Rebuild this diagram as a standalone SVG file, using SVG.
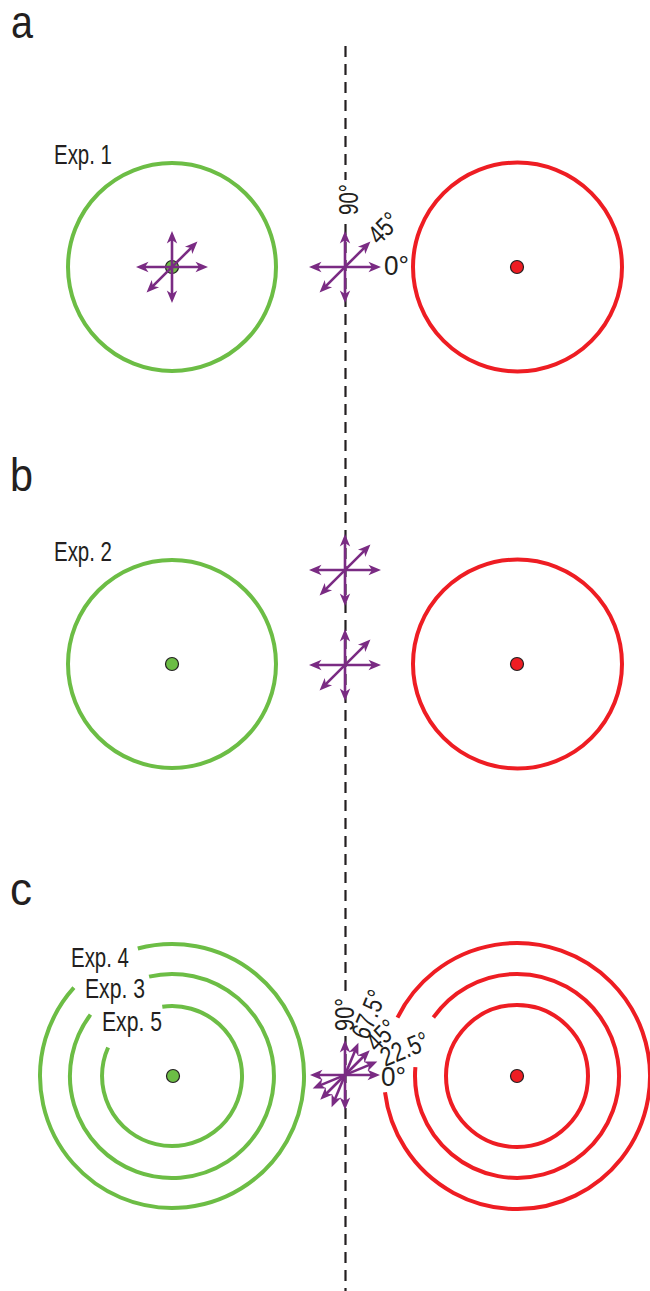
<svg xmlns="http://www.w3.org/2000/svg" width="650" height="1291" viewBox="0 0 650 1291">
<style>
.t{font-family:"Liberation Sans Narrow","Arial Narrow","Liberation Sans",Arial,sans-serif;fill:#231f20}
.lbl{font-size:46px}
.exp{font-size:27px}
.deg{font-size:27px}
.g{fill:none;stroke:#6cbd45;stroke-width:4}
.r{fill:none;stroke:#ee1d23;stroke-width:4}
.dg{fill:#6cbd45;stroke:#231f20;stroke-width:1.2}
.dr{fill:#ee1d23;stroke:#231f20;stroke-width:1.2}
.ar{fill:none;stroke:#7a2b83;stroke-width:2.6;marker-start:url(#ah);marker-end:url(#ah)}
.dash{fill:none;stroke:#231f20;stroke-width:2.2;stroke-dasharray:11 7}
</style>
<defs>
<marker id="ah" markerUnits="userSpaceOnUse" markerWidth="18" markerHeight="12" refX="10" refY="6" orient="auto-start-reverse">
<path d="M16,6 L3.5,0.8 L7,6 L3.5,11.2 Z" fill="#7a2b83"/>
</marker>
</defs>
<rect width="650" height="1291" fill="#ffffff"/>
<g id="connectors">
<path class="dash" d="M345.5,46 V180 M345.5,224 V993 M345.5,1036 V1291"/>
</g>
<g id="panel-labels">
<text class="t lbl" x="11" y="38" textLength="22" lengthAdjust="spacingAndGlyphs">a</text>
<text class="t lbl" x="10" y="491" textLength="23" lengthAdjust="spacingAndGlyphs">b</text>
<text class="t lbl" x="10" y="905" textLength="22" lengthAdjust="spacingAndGlyphs">c</text>
</g>
<g id="exp1-green">
<circle class="g" cx="172" cy="267" r="104"/>
<circle class="dg" cx="172" cy="267" r="6.5"/>
<text class="t exp" x="54" y="164" textLength="58" lengthAdjust="spacingAndGlyphs">Exp. 1</text>
</g>
<g id="exp1-red">
<circle class="r" cx="517.5" cy="267" r="104.5"/>
<circle class="dr" cx="517" cy="267" r="6.5"/>
</g>
<g id="exp1-arrows-left">
<path class="ar" d="M142,267 H202"/>
<path class="ar" d="M172,297 V237"/>
<path class="ar" d="M150.8,288.2 L193.2,245.8"/>
</g>
<g id="exp1-arrows-mid">
<path class="ar" d="M315,267 H375"/>
<path class="ar" d="M345,297 V237"/>
<path class="ar" d="M323.8,288.2 L366.2,245.8"/>
<text class="t deg" x="384" y="275" textLength="25" lengthAdjust="spacingAndGlyphs">0°</text>
<text class="t deg" transform="translate(345,267) rotate(-45)" x="39" y="9" textLength="32" lengthAdjust="spacingAndGlyphs">45°</text>
<text class="t deg" transform="translate(345,267) rotate(-90)" x="52" y="13" textLength="31" lengthAdjust="spacingAndGlyphs">90°</text>
</g>
<g id="exp2-green">
<circle class="g" cx="172" cy="664" r="104"/>
<circle class="dg" cx="172" cy="664" r="6.5"/>
<text class="t exp" x="54" y="561" textLength="58" lengthAdjust="spacingAndGlyphs">Exp. 2</text>
</g>
<g id="exp2-red">
<circle class="r" cx="517.5" cy="664" r="104.5"/>
<circle class="dr" cx="517" cy="664" r="6.5"/>
</g>
<g id="exp2-arrows-top">
<path class="ar" d="M315,570 H375"/>
<path class="ar" d="M345,600 V540"/>
<path class="ar" d="M323.8,591.2 L366.2,548.8"/>
</g>
<g id="exp2-arrows-bottom">
<path class="ar" d="M315,665 H375"/>
<path class="ar" d="M345,695 V635"/>
<path class="ar" d="M323.8,686.2 L366.2,643.8"/>
</g>
<g id="exp345-green">
<path class="g" d="M137.8,948.5 A132,132 0 1 1 73.9,987.7"/>
<path class="g" d="M149.1,976.6 A102,102 0 1 1 90.5,1014.6"/>
<path class="g" d="M162.3,1006.7 A70,70 0 1 1 108.1,1047.5"/>
<circle class="dg" cx="173" cy="1076" r="6.5"/>
<text class="t exp" x="71" y="967" textLength="58" lengthAdjust="spacingAndGlyphs">Exp. 4</text>
<text class="t exp" x="85" y="998" textLength="60" lengthAdjust="spacingAndGlyphs">Exp. 3</text>
<text class="t exp" x="102" y="1031" textLength="60" lengthAdjust="spacingAndGlyphs">Exp. 5</text>
</g>
<g id="exp345-red">
<path class="r" d="M397.5,1017.7 A133,133 0 1 1 385.0,1092.2"/>
<path class="r" d="M433.4,1017.5 A102,102 0 1 1 415.4,1067.1"/>
<circle class="r" cx="517" cy="1076" r="71"/>
<circle class="dr" cx="517" cy="1076" r="6.5"/>
</g>
<g id="exp345-arrows">
<path class="ar" d="M316,1075 H374"/>
<path class="ar" d="M318.2,1086.1 L371.8,1063.9"/>
<path class="ar" d="M324.5,1095.5 L365.5,1054.5"/>
<path class="ar" d="M333.9,1101.8 L356.1,1048.2"/>
<path class="ar" d="M345,1104 V1046"/>
<text class="t deg" x="381" y="1086" textLength="25" lengthAdjust="spacingAndGlyphs">0°</text>
<text class="t deg" transform="translate(345,1075) rotate(-22.5)" x="40" y="8" textLength="50" lengthAdjust="spacingAndGlyphs">22.5°</text>
<text class="t deg" transform="translate(345,1075) rotate(-45)" x="38" y="7" textLength="32" lengthAdjust="spacingAndGlyphs">45°</text>
<text class="t deg" transform="translate(345,1075) rotate(-67.5)" x="40" y="8" textLength="50" lengthAdjust="spacingAndGlyphs">67.5°</text>
<text class="t deg" transform="translate(345,1075) rotate(-90)" x="44" y="9" textLength="33" lengthAdjust="spacingAndGlyphs">90°</text>
</g>
</svg>
